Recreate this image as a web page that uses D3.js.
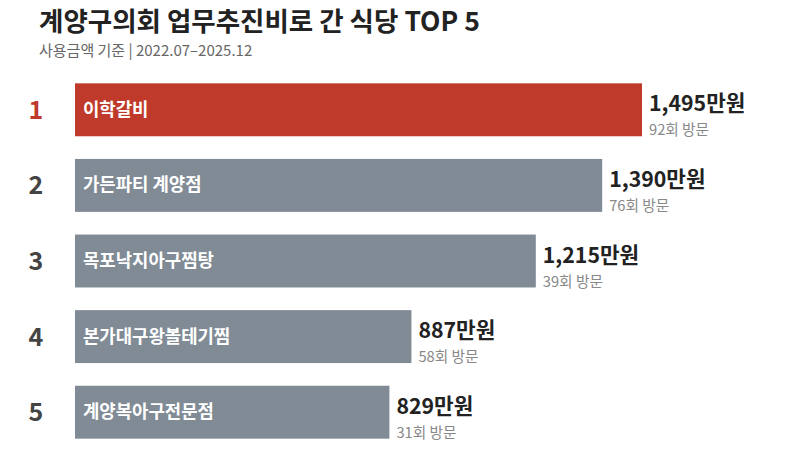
<!DOCTYPE html>
<html><head><meta charset="utf-8">
<script src="https://cdn.jsdelivr.net/npm/d3@7"></script>
<style>
body{margin:0;background:#fff;}
text{font-family:"Noto Sans CJK KR","Noto Sans",sans-serif;}
</style></head>
<body><svg id="c" width="800" height="464"></svg>
<script>
const names = ["이학갈비","가든파티 계양점","목포낙지아구찜탕","본가대구왕볼테기찜","계양복아구전문점"];
const amounts = [1495,1390,1215,887,829];
const visits = [92,76,39,58,31];
const ranks = [1,2,3,4,5];

const svg = d3.select("#c");
svg.append("text").attr("x",39).attr("y",30.5).attr("font-size",26.5).attr("font-weight",700).attr("fill","#222").text("계양구의회 업무추진비로 간 식당 TOP 5");
svg.append("text").attr("x",39).attr("y",55.5).attr("font-size",15).attr("fill","#666").text("사용금액 기준 | 2022.07–2025.12");

const x = d3.scaleLinear().domain([0,1495]).range([75,642]);
const y = d3.scaleBand().domain(ranks).range([72,450]).paddingInner(0.3).paddingOuter(0.15);

const g = svg.append("g").selectAll("g").data(ranks.map((r,i)=>({r,n:names[i],a:amounts[i],v:visits[i]}))).join("g");
g.append("rect").attr("x",x(0)).attr("y",d=>y(d.r)).attr("width",d=>x(d.a)-x(0)).attr("height",y.bandwidth())
 .attr("fill",d=>d.r===1?"#bf3a2b":"#808b96");
g.append("text").attr("x",36).attr("y",d=>y(d.r)+y.bandwidth()/2+9).attr("text-anchor","middle").attr("font-size",25).attr("font-weight",700)
 .attr("fill",d=>d.r===1?"#bf3a2b":"#444").text(d=>d.r);
g.append("text").attr("x",x(0)+8).attr("y",d=>y(d.r)+y.bandwidth()/2+6).attr("font-size",17.8).attr("font-weight",700).attr("fill","#fff").text(d=>d.n);
g.append("text").attr("x",d=>x(d.a)+7).attr("y",d=>y(d.r)+28).attr("font-size",21.3).attr("font-weight",700).attr("fill","#222").text(d=>d3.format(",")(d.a)+"만원");
g.append("text").attr("x",d=>x(d.a)+7).attr("y",d=>y(d.r)+52).attr("font-size",14.7).attr("fill","#888").text(d=>d.v+"회 방문");
</script></body></html>
